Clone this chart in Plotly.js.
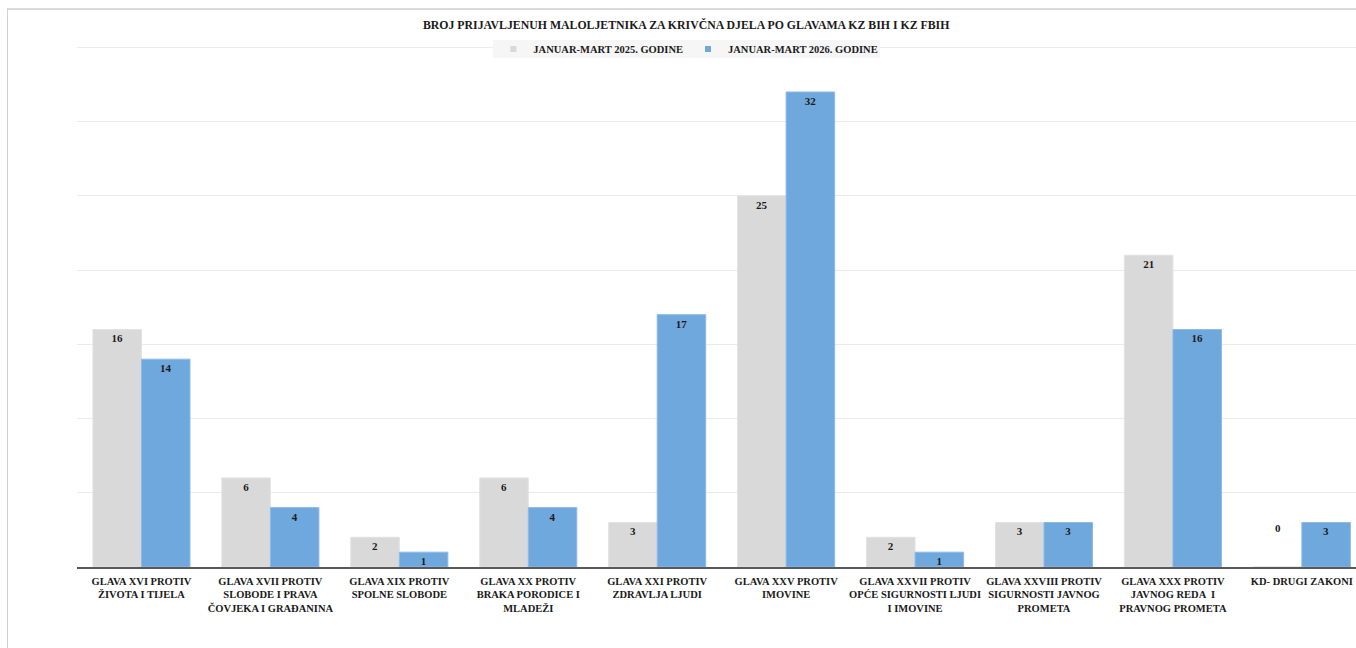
<!DOCTYPE html>
<html>
<head>
<meta charset="utf-8">
<script src="https://cdn.plot.ly/plotly-3.0.1.min.js"></script>
<style>
html,body{margin:0;padding:0;background:#fff;}
#wrap{position:relative;width:1356px;height:648px;}
#chart{width:1356px;height:648px;}
#frame{position:absolute;left:7px;top:8px;right:-5px;bottom:-5px;border-left:1.5px solid #cfcfcf;border-top:2px solid #d9d9d9;pointer-events:none;}
</style>
</head>
<body>
<div id="wrap"><div id="chart"></div><div id="frame"></div></div>
<script>
const categories = [
  "GLAVA XVI PROTIV<br>ŽIVOTA I TIJELA",
  "GLAVA XVII PROTIV<br>SLOBODE I PRAVA<br>ČOVJEKA I GRAĐANINA",
  "GLAVA XIX PROTIV<br>SPOLNE SLOBODE",
  "GLAVA XX PROTIV<br>BRAKA PORODICE I<br>MLADEŽI",
  "GLAVA XXI PROTIV<br>ZDRAVLJA LJUDI",
  "GLAVA XXV PROTIV<br>IMOVINE",
  "GLAVA XXVII PROTIV<br>OPĆE SIGURNOSTI LJUDI<br>I IMOVINE",
  "GLAVA XXVIII PROTIV<br>SIGURNOSTI JAVNOG<br>PROMETA",
  "GLAVA XXX PROTIV<br>JAVNOG REDA  I<br>PRAVNOG PROMETA",
  "KD- DRUGI ZAKONI"
];
const seriesNames = ["JANUAR-MART 2025. GODINE", "JANUAR-MART 2026. GODINE"];
const values2025 = [16, 6, 2, 6, 3, 25, 2, 3, 21, 0];
const values2026 = [14, 4, 1, 4, 17, 32, 1, 3, 16, 3];
const chartTitle = "BROJ PRIJAVLJENUH MALOLJETNIKA ZA KRIVČNA DJELA PO GLAVAMA KZ BIH I KZ FBIH";
const colors = ["#d9d9d9", "#6fa8dc"];
const yMax = 35;

const FONT = "'Liberation Serif', 'DejaVu Serif', serif";
const labelFont = {family: FONT, size: 11, color: "#1a1a1a", weight: 700};

function mkTrace(name, vals, color, lineColor) {
  return {
    type: "bar",
    name: name,
    x: categories,
    y: vals,
    text: vals.map(v => v === 0 ? "" : String(v)),
    textposition: "inside",
    insidetextanchor: "end",
    textangle: 0,
    constraintext: "none",
    textfont: labelFont,
    marker: {color: color, line: {color: lineColor, width: 1}},
    showlegend: false,
    hoverinfo: "x+y"
  };
}
function mkLegend(name, color) {
  return {
    type: "scatter", mode: "markers", name: name,
    x: [null], y: [null],
    marker: {symbol: "square", size: 6, color: color},
    showlegend: true, hoverinfo: "skip"
  };
}

const traces = [
  mkTrace(seriesNames[0], values2025, colors[0], "#e2e2e2"),
  mkTrace(seriesNames[1], values2026, colors[1], "#8cbbe6"),
  mkLegend(seriesNames[0], colors[0]),
  mkLegend(seriesNames[1], colors[1])
];

// labels for zero-valued bars (Excel-style "inside end" placement)
const annotations = [];
values2025.forEach((v, i) => {
  if (v === 0) annotations.push({x: categories[i], y: v, xref: "x", yref: "y", text: "0", showarrow: false,
    xshift: -24, yshift: 39, font: labelFont});
});
values2026.forEach((v, i) => {
  if (v === 0) annotations.push({x: categories[i], y: v, xref: "x", yref: "y", text: "0", showarrow: false,
    xshift: 24, yshift: 39, font: labelFont});
});

const layout = {
  width: 1356, height: 648,
  margin: {l: 77, r: 0, t: 47, b: 81},
  paper_bgcolor: "#ffffff",
  plot_bgcolor: "#ffffff",
  title: {
    text: chartTitle,
    font: {family: FONT, size: 11.8, color: "#1a1a1a", weight: 700},
    x: 0.506, xref: "container", xanchor: "center",
    y: 0.962, yref: "container", yanchor: "middle"
  },
  barmode: "group",
  bargap: 0.247,
  bargroupgap: 0,
  showlegend: true,
  legend: {
    orientation: "h",
    x: 0.478, xanchor: "center",
    y: 0.996, yanchor: "middle",
    bgcolor: "rgba(0,0,0,0)",
    font: {family: FONT, size: 10.5, color: "#1a1a1a", weight: 700},
    itemwidth: 30,
    traceorder: "normal"
  },
  shapes: [
    {
      type: "line", xref: "paper", yref: "y", layer: "below",
      x0: 0, x1: 1, y0: yMax, y1: yMax,
      line: {color: "#ebebeb", width: 1}
    },
    {
      type: "rect", xref: "paper", yref: "paper", layer: "below",
      x0: (493 - 77) / 1279, x1: (880 - 77) / 1279,
      y0: 1 + (47 - 58) / 520, y1: 1 + (47 - 40) / 520,
      fillcolor: "#f6f6f6", line: {width: 0}
    }
  ],
  xaxis: {
    type: "category",
    range: [-0.5, 9.42],
    showgrid: false,
    showline: true,
    linecolor: "#595959",
    linewidth: 2,
    ticks: "",
    ticklabelstandoff: 3,
    tickfont: {family: FONT, size: 10.5, color: "#1a1a1a", weight: 700},
    automargin: false
  },
  yaxis: {
    range: [0, yMax + 0.03],
    dtick: 5,
    showticklabels: false,
    showgrid: true,
    gridcolor: "#ebebeb",
    gridwidth: 1,
    zeroline: false,
    showline: false,
    ticks: ""
  },
  annotations: annotations,
  font: {family: FONT}
};

Plotly.newPlot("chart", traces, layout, {displayModeBar: false, staticPlot: true});
</script>
</body>
</html>
